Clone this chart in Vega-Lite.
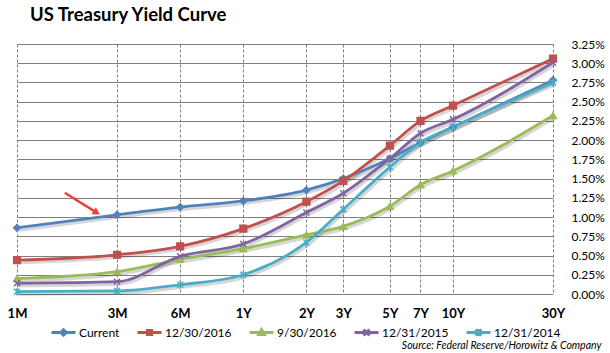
{
  "$schema": "https://vega.github.io/schema/vega-lite/v6.json",
  "autosize": "none",
  "width": 536,
  "height": 250,
  "padding": {"left": 17, "top": 44, "right": 57, "bottom": 59},
  "background": "white",
  "config": {"font": "Lato", "view": {"stroke": null}},
  "title": {"text": "US Treasury Yield Curve", "anchor": "start", "frame": "group", "dx": 13, "offset": -1, "baseline": "alphabetic", "fontSize": 18.5, "fontWeight": "bold", "color": "#000000", "font": "Lato"},
  "data": {"values": [
    {"series": "Current", "months": 1, "yield": 0.86},
    {"series": "Current", "months": 3, "yield": 1.03},
    {"series": "Current", "months": 6, "yield": 1.13},
    {"series": "Current", "months": 12, "yield": 1.21},
    {"series": "Current", "months": 24, "yield": 1.35},
    {"series": "Current", "months": 36, "yield": 1.50},
    {"series": "Current", "months": 60, "yield": 1.76},
    {"series": "Current", "months": 84, "yield": 1.97},
    {"series": "Current", "months": 120, "yield": 2.17},
    {"series": "Current", "months": 360, "yield": 2.78},
    {"series": "12/30/2016", "months": 1, "yield": 0.44},
    {"series": "12/30/2016", "months": 3, "yield": 0.51},
    {"series": "12/30/2016", "months": 6, "yield": 0.62},
    {"series": "12/30/2016", "months": 12, "yield": 0.85},
    {"series": "12/30/2016", "months": 24, "yield": 1.20},
    {"series": "12/30/2016", "months": 36, "yield": 1.47},
    {"series": "12/30/2016", "months": 60, "yield": 1.93},
    {"series": "12/30/2016", "months": 84, "yield": 2.25},
    {"series": "12/30/2016", "months": 120, "yield": 2.45},
    {"series": "12/30/2016", "months": 360, "yield": 3.06},
    {"series": "9/30/2016", "months": 1, "yield": 0.20},
    {"series": "9/30/2016", "months": 3, "yield": 0.29},
    {"series": "9/30/2016", "months": 6, "yield": 0.45},
    {"series": "9/30/2016", "months": 12, "yield": 0.59},
    {"series": "9/30/2016", "months": 24, "yield": 0.77},
    {"series": "9/30/2016", "months": 36, "yield": 0.88},
    {"series": "9/30/2016", "months": 60, "yield": 1.14},
    {"series": "9/30/2016", "months": 84, "yield": 1.42},
    {"series": "9/30/2016", "months": 120, "yield": 1.60},
    {"series": "9/30/2016", "months": 360, "yield": 2.32},
    {"series": "12/31/2015", "months": 1, "yield": 0.14},
    {"series": "12/31/2015", "months": 3, "yield": 0.16},
    {"series": "12/31/2015", "months": 6, "yield": 0.49},
    {"series": "12/31/2015", "months": 12, "yield": 0.65},
    {"series": "12/31/2015", "months": 24, "yield": 1.06},
    {"series": "12/31/2015", "months": 36, "yield": 1.31},
    {"series": "12/31/2015", "months": 60, "yield": 1.76},
    {"series": "12/31/2015", "months": 84, "yield": 2.09},
    {"series": "12/31/2015", "months": 120, "yield": 2.27},
    {"series": "12/31/2015", "months": 360, "yield": 3.01},
    {"series": "12/31/2014", "months": 1, "yield": 0.03},
    {"series": "12/31/2014", "months": 3, "yield": 0.04},
    {"series": "12/31/2014", "months": 6, "yield": 0.12},
    {"series": "12/31/2014", "months": 12, "yield": 0.25},
    {"series": "12/31/2014", "months": 24, "yield": 0.67},
    {"series": "12/31/2014", "months": 36, "yield": 1.10},
    {"series": "12/31/2014", "months": 60, "yield": 1.65},
    {"series": "12/31/2014", "months": 84, "yield": 1.97},
    {"series": "12/31/2014", "months": 120, "yield": 2.17},
    {"series": "12/31/2014", "months": 360, "yield": 2.75}
  ]},
  "layer": [
    {
      "mark": {"type": "line", "interpolate": "monotone", "strokeWidth": 3, "color": "#000000", "opacity": 0.16, "xOffset": 1.5, "yOffset": 2.5},
      "encoding": {
        "x": {"field": "months", "type": "quantitative",
          "scale": {"type": "log", "domain": [1, 360], "nice": false},
          "axis": {
            "values": [1, 3, 6, 12, 24, 36, 60, 84, 120, 360],
            "labelExpr": "datum.value==1?'1M':datum.value==3?'3M':datum.value==6?'6M':datum.value==12?'1Y':datum.value==24?'2Y':datum.value==36?'3Y':datum.value==60?'5Y':datum.value==84?'7Y':datum.value==120?'10Y':'30Y'",
            "grid": true, "gridDash": [3, 2], "gridColor": "#7f7f7f", "gridWidth": 1,
            "domain": false, "ticks": false,
            "labelFont": "Lato", "labelFontWeight": "bold", "labelFontSize": 13, "labelColor": "#000000",
            "labelPadding": 19, "labelBaseline": "middle", "labelFlush": false, "labelOverlap": false,
            "title": "Source: Federal Reserve/Horowitz & Company",
            "titleFont": "Lato", "titleFontStyle": "italic", "titleFontWeight": "normal", "titleFontSize": 10.5,
            "titleColor": "#000000", "titleX": 584, "titleY": 51, "titleAlign": "right", "titleBaseline": "middle"
          }},
        "y": {"field": "yield", "type": "quantitative",
          "scale": {"domain": [0, 3.25], "nice": false},
          "axis": {
            "orient": "right",
            "values": [3.25, 3, 2.75, 2.5, 2.25, 2, 1.75, 1.5, 1.25, 1, 0.75, 0.5, 0.25, 0],
            "tickCount": 20,
            "labelExpr": "format(datum.value, '.2f') + '%'",
            "grid": true, "gridColor": "#7f7f7f", "gridWidth": 1,
            "domain": false, "ticks": false, "labelOverlap": false, "labelBound": false,
            "labelFont": "Lato", "labelFontSize": 12, "labelColor": "#000000", "labelPadding": 18,
            "title": null
          }},
        "detail": {"field": "series", "type": "nominal"}
      }
    },
    {
      "mark": {"type": "line", "interpolate": "monotone", "strokeWidth": 2.8},
      "encoding": {
        "x": {"field": "months", "type": "quantitative"},
        "y": {"field": "yield", "type": "quantitative"},
        "color": {"field": "series", "type": "nominal",
          "scale": {"domain": ["Current", "12/30/2016", "9/30/2016", "12/31/2015", "12/31/2014"],
                    "range": ["#4F81BD", "#C0504D", "#9BBB59", "#8064A2", "#4BACC6"]},
          "legend": null}
      }
    },
    {
      "mark": {"type": "point", "filled": true, "opacity": 1, "strokeWidth": 1.5, "size": 45},
      "encoding": {
        "x": {"field": "months", "type": "quantitative"},
        "y": {"field": "yield", "type": "quantitative"},
        "color": {"field": "series", "type": "nominal",
          "scale": {"domain": ["Current", "12/30/2016", "9/30/2016", "12/31/2015", "12/31/2014"],
                    "range": ["#4F81BD", "#C0504D", "#9BBB59", "#8064A2", "#4BACC6"]},
          "legend": null},
        "stroke": {"field": "series", "type": "nominal",
          "scale": {"domain": ["Current", "12/30/2016", "9/30/2016", "12/31/2015", "12/31/2014"],
                    "range": ["#4F81BD", "#C0504D", "#9BBB59", "#8064A2", "#4BACC6"]},
          "legend": null},
        "shape": {"field": "series", "type": "nominal",
          "scale": {"domain": ["Current", "12/30/2016", "9/30/2016", "12/31/2015", "12/31/2014"],
                    "range": ["diamond", "square", "triangle-up", "M-0.9,-0.9L0.9,0.9M-0.9,0.9L0.9,-0.9", "M-0.9,-0.9L0.9,0.9M-0.9,0.9L0.9,-0.9M0,-1.1L0,1.1"]},
          "legend": null}
      }
    },
    {
      "data": {"values": [{"months": 1.69, "yield": 1.317, "months_end": 2.40, "yield_end": 1.058}]},
      "mark": {"type": "rule", "color": "#E8413A", "strokeWidth": 2.5},
      "encoding": {
        "x": {"field": "months", "type": "quantitative"},
        "y": {"field": "yield", "type": "quantitative"},
        "x2": {"field": "months_end"},
        "y2": {"field": "yield_end"}
      }
    },
    {
      "data": {"values": [{"months": 2.40, "yield": 1.058}]},
      "mark": {"type": "point", "shape": "triangle-right", "angle": 32, "filled": true, "opacity": 1, "color": "#E8413A", "size": 70},
      "encoding": {
        "x": {"field": "months", "type": "quantitative"},
        "y": {"field": "yield", "type": "quantitative"}
      }
    },
    {
      "data": {"values": []},
      "mark": {"type": "point", "filled": false, "opacity": 1, "strokeWidth": 3},
      "encoding": {
        "color": {"field": "series", "type": "nominal",
          "scale": {"domain": ["Current", "12/30/2016", "9/30/2016", "12/31/2015", "12/31/2014"],
                    "range": ["#4F81BD", "#C0504D", "#9BBB59", "#8064A2", "#4BACC6"]},
          "legend": {
            "orient": "none", "legendX": 39, "legendY": 281, "direction": "horizontal", "title": null,
            "symbolSize": 144, "symbolStrokeWidth": 3, "symbolOpacity": 1,
            "labelFont": "Lato", "labelFontSize": 12, "labelColor": "#000000", "labelOffset": 8,
            "columnPadding": 11, "gridAlign": "none"
          }},
        "shape": {"field": "series", "type": "nominal",
          "scale": {"domain": ["Current", "12/30/2016", "9/30/2016", "12/31/2015", "12/31/2014"],
                    "range": [
                      "M-2,0H2M0,-0.45L0.45,0L0,0.45L-0.45,0Z",
                      "M-2,0H2M-0.35,-0.35H0.35V0.35H-0.35Z",
                      "M-2,0H2M0,-0.45L0.45,0.32L-0.45,0.32Z",
                      "M-2,0H2M-0.5,-0.5L0.5,0.5M-0.5,0.5L0.5,-0.5",
                      "M-2,0H2M-0.5,-0.5L0.5,0.5M-0.5,0.5L0.5,-0.5M0,-0.6V0.6"
                    ]}}
      }
    }
  ],
  "resolve": {"scale": {"color": "independent", "shape": "independent"}}
}
